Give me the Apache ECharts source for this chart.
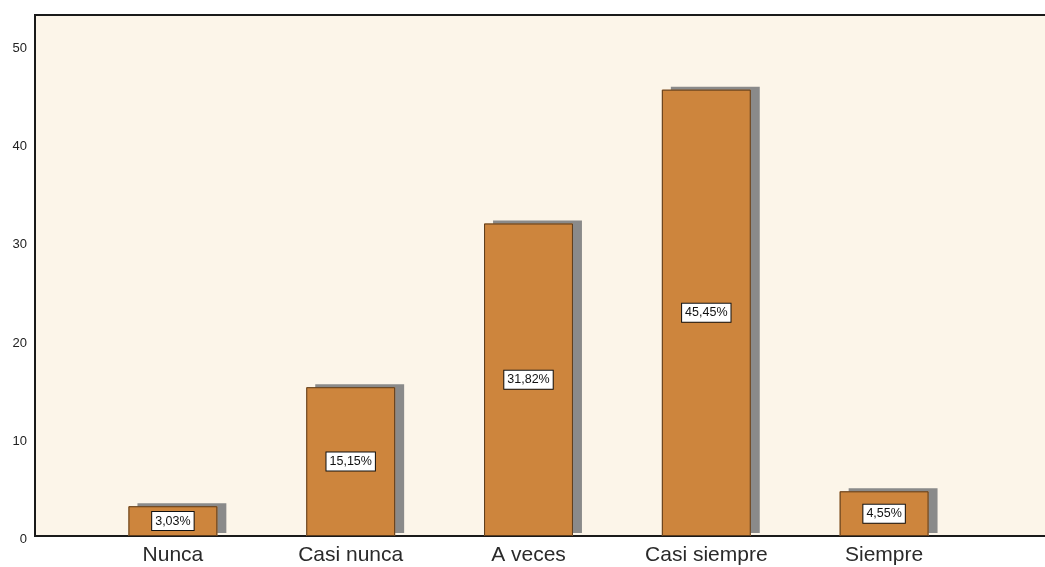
<!DOCTYPE html>
<html><head><meta charset="utf-8">
<script src="https://cdn.jsdelivr.net/npm/echarts@6/dist/echarts.min.js"></script>
<style>html,body{margin:0;padding:0;background:#fff}#c{width:1045px;height:567px}</style>
</head><body><div id="c"></div>
<script>
const categories = ['Nunca', 'Casi nunca', 'A veces', 'Casi siempre', 'Siempre'];
const percents = [3.03, 15.15, 31.82, 45.45, 4.55];
const percentLabels = ['3,03%', '15,15%', '31,82%', '45,45%', '4,55%'];
const yTicks = [0, 10, 20, 30, 40, 50];

const chart = echarts.init(document.getElementById('c'));
const yMax = 53.05;
const font = 'Liberation Sans, Arial, sans-serif';
chart.setOption({
  animation: false,
  grid: [
    {left: 35, width: 1030, top: 15, bottom: 31, show: true, backgroundColor: '#fcf5e9', borderColor: '#1a1a1a', borderWidth: 2, outerBoundsMode: 'none', containLabel: false},
    {left: 84, width: 889, top: 15, bottom: 31, outerBoundsMode: 'none', containLabel: false},
    {left: 35, width: 10, top: 18.5, bottom: 27.5, outerBoundsMode: 'none', containLabel: false}
  ],
  xAxis: [
    {type: 'category', gridIndex: 0, data: [''], show: false},
    {type: 'category', gridIndex: 1, data: categories, boundaryGap: true,
     axisLine: {show: false}, axisTick: {show: false},
     axisLabel: {color: '#2a2a2a', fontSize: 21, fontFamily: font, margin: 9, interval: 0}},
    {type: 'category', gridIndex: 2, data: [''], show: false}
  ],
  yAxis: [
    {type: 'value', gridIndex: 0, min: 0, max: yMax, show: false},
    {type: 'value', gridIndex: 1, min: 0, max: yMax, show: false},
    {type: 'value', gridIndex: 2, min: 0, max: yMax, interval: 10,
     axisLine: {show: false}, axisTick: {show: false}, splitLine: {show: false},
     axisLabel: {color: '#222', fontSize: 13, fontFamily: font, margin: 8, showMaxLabel: false,
       formatter: v => yTicks.includes(v) ? String(v) : ''}}
  ],
  series: [{
    type: 'bar', xAxisIndex: 1, yAxisIndex: 1,
    data: percents, barWidth: '50%', z: 2,
    itemStyle: {color: '#cd853d', borderWidth: 0,
      shadowColor: '#8a8a8a', shadowBlur: 0, shadowOffsetX: 9, shadowOffsetY: -3}
  }, {
    type: 'bar', xAxisIndex: 1, yAxisIndex: 1,
    data: percents, barWidth: '50%', barGap: '-100%', z: 3,
    itemStyle: {color: 'rgba(0,0,0,0)', borderColor: '#5b3b1c', borderWidth: 1},
    label: {show: true, position: 'inside', formatter: p => percentLabels[p.dataIndex],
      color: '#111', fontSize: 12.5, fontFamily: font,
      backgroundColor: '#fff', borderColor: '#111', borderWidth: 1, padding: [3, 3, 2, 3]}
  }]
});
</script></body></html>
